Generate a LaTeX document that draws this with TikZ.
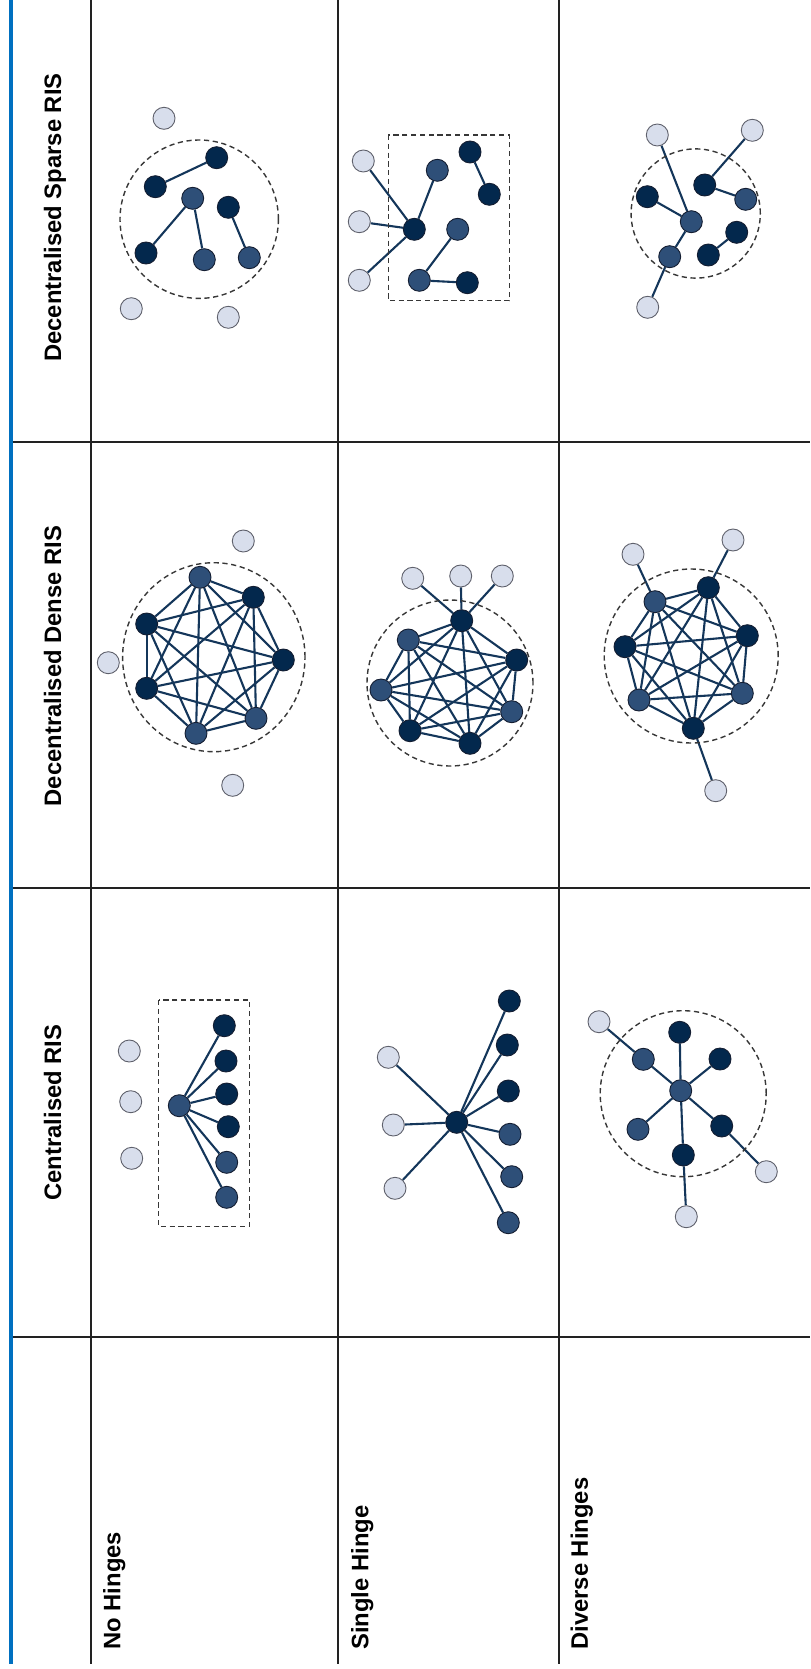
\documentclass[tikz,border=0pt]{standalone}
\usepackage{fontspec}
\setmainfont{Liberation Sans}
\pgfdeclarelayer{bg}
\pgfsetlayers{bg,main}

\definecolor{dknode}{RGB}{3,40,77}
\definecolor{mdnode}{RGB}{46,79,120}
\definecolor{ltnode}{RGB}{216,222,236}
\definecolor{ltborder}{RGB}{95,97,108}
\definecolor{nodeborder}{RGB}{20,30,50}
\definecolor{edgecol}{RGB}{20,54,90}
\definecolor{gridcol}{RGB}{34,34,34}
\definecolor{bandblue}{RGB}{0,112,192}
\definecolor{boundcol}{RGB}{55,55,55}

\tikzset{
  ris/.style={circle, minimum size=11pt, inner sep=0pt, line width=0.45pt},
  dk/.style={ris, fill=dknode, draw=nodeborder},
  md/.style={ris, fill=mdnode, draw=nodeborder},
  lt/.style={ris, fill=ltnode, draw=ltborder},
  edge/.style={draw=edgecol, line width=1.05pt},
  boundary/.style={draw=boundcol, line width=0.7pt, dash pattern=on 2.6pt off 1.8pt},
  grid/.style={draw=gridcol, line width=1.1pt},
  band/.style={draw=bandblue, line width=1.85pt},
  hdr/.style={rotate=90, inner sep=0pt, font=\bfseries\fontsize{11.9}{14}\selectfont},
}

% all 21 links between the seven elements #1 1 ... #1 7
\newcommand{\fullmesh}[1]{%
  \foreach \i in {1,...,7}{%
    \foreach \j in {\i,...,7}{%
      \ifnum\i<\j\relax\draw[edge] (#1\i) -- (#1\j);\fi
    }%
  }%
}

\begin{document}
\begin{tikzpicture}[x=0.5pt, y=-0.5pt]
\useasboundingbox (0,0) rectangle (810,1669);

% ---------- table rules ----------
\draw[band] (10.8,0) -- (10.8,1664);
\foreach \xx in {91,338.3,559}{\draw[grid] (\xx,0) -- (\xx,1664);}
\foreach \yy in {441.7,888.3,1336.6}{\draw[grid] (12.7,\yy) -- (810,\yy);}

% ---------- headers ----------
\node[hdr, anchor=base] (hsparse) at (61,217.5) {Decentralised Sparse RIS};
\node[hdr, anchor=base] (hdense) at (61,666) {Decentralised Dense RIS};
\node[hdr, anchor=base] (hcentral) at (61,1112.5) {Centralised RIS};
\node[hdr, anchor=base west] (rnone) at (120.3,1650) {No Hinges};
\node[hdr, anchor=base west] (rsingle) at (368.3,1650) {Single Hinge};
\node[hdr, anchor=base west] (rdiverse) at (587.8,1650) {Diverse Hinges};

% ---------- sparse / no hinges ----------
\draw[boundary] (199.2,219.2) circle [radius=39.6pt];
\node[lt] (a1l1) at (164,118.3) {};
\node[dk] (a1d1) at (216.7,157.7) {};
\node[dk] (a1d2) at (155.3,186.7) {};
\node[md] (a1m1) at (192.7,198.3) {};
\node[dk] (a1d3) at (228.3,207.3) {};
\node[dk] (a1d4) at (146,253) {};
\node[md] (a1m2) at (204.3,259.7) {};
\node[md] (a1m3) at (249.3,257.7) {};
\node[lt] (a1l2) at (131.3,308.7) {};
\node[lt] (a1l3) at (228.3,317.3) {};
\begin{pgfonlayer}{bg}
\draw[edge] (a1d1) -- (a1d2);
\draw[edge] (a1m1) -- (a1d4);
\draw[edge] (a1m1) -- (a1m2);
\draw[edge] (a1d3) -- (a1m3);
\end{pgfonlayer}

% ---------- sparse / single hinge ----------
\draw[boundary] (388.3,135) rectangle (509.3,300.7);
\node[lt] (a2l1) at (363.3,161) {};
\node[lt] (a2l2) at (359.3,221.7) {};
\node[lt] (a2l3) at (359.3,280.3) {};
\node[dk] (a2h) at (414.3,229.3) {};
\node[md] (a2m1) at (437.3,170.3) {};
\node[dk] (a2d1) at (470,152) {};
\node[dk] (a2d2) at (489.3,194.3) {};
\node[md] (a2m2) at (457.7,229.3) {};
\node[md] (a2m3) at (419.3,280.3) {};
\node[dk] (a2d3) at (467.3,282.7) {};
\begin{pgfonlayer}{bg}
\draw[edge] (a2l1) -- (a2h);
\draw[edge] (a2l2) -- (a2h);
\draw[edge] (a2l3) -- (a2h);
\draw[edge] (a2h) -- (a2m1);
\draw[edge] (a2d1) -- (a2d2);
\draw[edge] (a2m2) -- (a2m3);
\draw[edge] (a2m3) -- (a2d3);
\end{pgfonlayer}

% ---------- sparse / diverse hinges ----------
\draw[boundary] (695.7,213.5) circle [radius=32.3pt];
\node[lt] (a3l1) at (657.3,135) {};
\node[lt] (a3l2) at (752.3,130.3) {};
\node[dk] (a3d1) at (704.7,185) {};
\node[dk] (a3d2) at (647.3,196.7) {};
\node[md] (a3m1) at (745.7,199.3) {};
\node[md] (a3h) at (691.3,221.7) {};
\node[dk] (a3d3) at (736.7,232.3) {};
\node[md] (a3m2) at (669.7,256.7) {};
\node[dk] (a3d4) at (708.3,255) {};
\node[lt] (a3l3) at (647.7,307.3) {};
\begin{pgfonlayer}{bg}
\draw[edge] (a3l1) -- (a3h);
\draw[edge] (a3d2) -- (a3h);
\draw[edge] (a3h) -- (a3m2);
\draw[edge] (a3m2) -- (a3l3);
\draw[edge] (a3l2) -- (a3d1);
\draw[edge] (a3d1) -- (a3m1);
\draw[edge] (a3d3) -- (a3d4);
\end{pgfonlayer}

% ---------- dense / no hinges ----------
\draw[boundary] (213.8,657.2) ellipse [x radius=45.6pt, y radius=47.25pt];
\node[lt] (b1l1) at (243.3,541) {};
\node[lt] (b1l2) at (108.3,662.7) {};
\node[lt] (b1l3) at (232.7,785.3) {};
\node[md] (b1p1) at (200,577.3) {};
\node[dk] (b1p2) at (253.3,597.3) {};
\node[dk] (b1p3) at (283.3,660) {};
\node[md] (b1p4) at (256,718.3) {};
\node[md] (b1p5) at (196,733.3) {};
\node[dk] (b1p6) at (146.7,688.3) {};
\node[dk] (b1p7) at (146.7,624) {};
\begin{pgfonlayer}{bg}
\fullmesh{b1p}
\end{pgfonlayer}

% ---------- dense / single hinge ----------
\draw[boundary] (450,683) circle [radius=41.5pt];
\node[lt] (b2l1) at (412.7,578.3) {};
\node[lt] (b2l2) at (460.7,576) {};
\node[lt] (b2l3) at (502.3,576) {};
\node[dk] (b2p1) at (461.7,620.7) {};
\node[dk] (b2p2) at (516.7,660) {};
\node[md] (b2p3) at (511.7,711.7) {};
\node[dk] (b2p4) at (470,743.3) {};
\node[dk] (b2p5) at (410,730.7) {};
\node[md] (b2p6) at (381,690) {};
\node[md] (b2p7) at (408.3,640) {};
\begin{pgfonlayer}{bg}
\fullmesh{b2p}
\draw[edge] (b2l1) -- (b2p1);
\draw[edge] (b2l2) -- (b2p1);
\draw[edge] (b2l3) -- (b2p1);
\end{pgfonlayer}

% ---------- dense / diverse hinges ----------
\draw[boundary] (691.2,656) circle [radius=43.5pt];
\node[lt] (b3l1) at (633,554.3) {};
\node[lt] (b3l2) at (733,540) {};
\node[lt] (b3l3) at (715.7,790.7) {};
\node[dk] (b3p1) at (708.3,587.7) {};
\node[dk] (b3p2) at (747.3,635.7) {};
\node[md] (b3p3) at (742.3,693.3) {};
\node[dk] (b3p4) at (693.3,728.3) {};
\node[md] (b3p5) at (639,700) {};
\node[dk] (b3p6) at (625,646.7) {};
\node[md] (b3p7) at (655,601.7) {};
\begin{pgfonlayer}{bg}
\fullmesh{b3p}
\draw[edge] (b3l1) -- (b3p7);
\draw[edge] (b3l2) -- (b3p1);
\draw[edge] (b3l3) -- (b3p4);
\end{pgfonlayer}

% ---------- centralised / no hinges ----------
\draw[boundary] (158.7,1000) rectangle (249.3,1226.7);
\node[lt] (c1l1) at (129.3,1051) {};
\node[lt] (c1l2) at (130.7,1101.7) {};
\node[lt] (c1l3) at (131.7,1158.3) {};
\node[md] (c1h) at (179.3,1105.7) {};
\node[dk] (c1e1) at (224.3,1025.7) {};
\node[dk] (c1e2) at (226,1061) {};
\node[dk] (c1e3) at (226.7,1094) {};
\node[dk] (c1e4) at (228.3,1126.7) {};
\node[md] (c1e5) at (226.7,1162.3) {};
\node[md] (c1e6) at (226.7,1197.3) {};
\begin{pgfonlayer}{bg}
\foreach \k in {1,...,6}{\draw[edge] (c1h) -- (c1e\k);}
\end{pgfonlayer}

% ---------- centralised / single hinge ----------
\node[lt] (c2l1) at (388.3,1057.3) {};
\node[lt] (c2l2) at (393.3,1125) {};
\node[lt] (c2l3) at (395,1188.3) {};
\node[dk] (c2h) at (456.7,1122.3) {};
\node[dk] (c2e1) at (509.3,1001) {};
\node[dk] (c2e2) at (507.3,1045) {};
\node[dk] (c2e3) at (508.3,1091) {};
\node[md] (c2e4) at (510,1134.3) {};
\node[md] (c2e5) at (511.7,1176.7) {};
\node[md] (c2e6) at (508.3,1222.7) {};
\begin{pgfonlayer}{bg}
\foreach \k in {1,...,6}{\draw[edge] (c2h) -- (c2e\k);}
\foreach \k in {1,2,3}{\draw[edge] (c2h) -- (c2l\k);}
\end{pgfonlayer}

% ---------- centralised / diverse hinges ----------
\draw[boundary] (683.2,1093.7) circle [radius=41.5pt];
\node[lt] (c3l1) at (599,1021.7) {};
\node[dk] (c3d1) at (679.7,1032.3) {};
\node[md] (c3m1) at (643.3,1059.3) {};
\node[dk] (c3d2) at (720,1059) {};
\node[md] (c3h) at (680.7,1090.7) {};
\node[md] (c3m2) at (638,1129.3) {};
\node[dk] (c3d3) at (721.7,1126) {};
\node[dk] (c3d4) at (683.3,1155) {};
\node[lt] (c3l2) at (766.3,1171.7) {};
\node[lt] (c3l3) at (686.3,1216.7) {};
\begin{pgfonlayer}{bg}
\draw[edge] (c3l1) -- (c3m1);
\draw[edge] (c3m1) -- (c3h);
\draw[edge] (c3d1) -- (c3h);
\draw[edge] (c3d2) -- (c3h);
\draw[edge] (c3m2) -- (c3h);
\draw[edge] (c3h) -- (c3d3);
\draw[edge] (c3d3) -- (c3l2);
\draw[edge] (c3h) -- (c3d4);
\draw[edge] (c3d4) -- (c3l3);
\end{pgfonlayer}
\end{tikzpicture}
\end{document}
